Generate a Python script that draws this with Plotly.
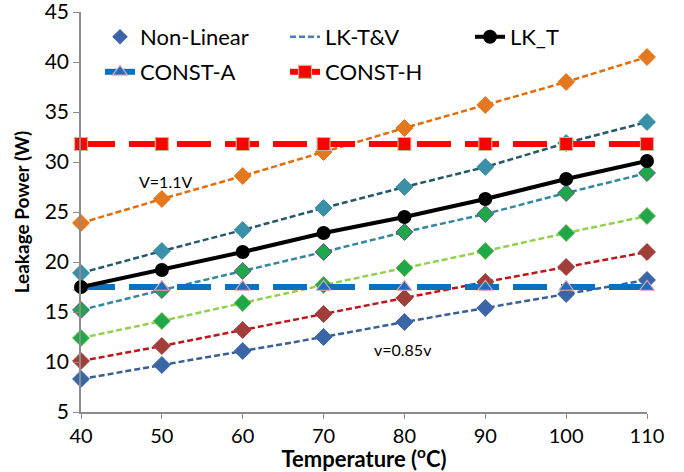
import plotly.graph_objects as go

temps = [40, 50, 60, 70, 80, 90, 100, 110]

s_orange = [23.9, 26.3, 28.6, 31.0, 33.4, 35.7, 38.0, 40.5]
s_teal_dark = [18.9, 21.1, 23.2, 25.4, 27.5, 29.5, 31.9, 34.0]
lk_t = [17.5, 19.2, 21.0, 22.9, 24.5, 26.3, 28.3, 30.1]
s_teal = [15.2, 17.2, 19.1, 21.0, 23.0, 24.8, 26.9, 28.9]
s_green = [12.4, 14.1, 15.9, 17.7, 19.4, 21.1, 22.9, 24.6]
s_red = [10.1, 11.6, 13.2, 14.8, 16.4, 18.0, 19.5, 21.0]
s_blue = [8.3, 9.7, 11.1, 12.5, 14.0, 15.4, 16.8, 18.2]
const_a = [17.5] * 8
const_h = [31.8] * 8

y_ticks = [5, 10, 15, 20, 25, 30, 35, 40, 45]
annot_texts = ["V=1.1V", "v=0.85v"]

FONT = "Lato"
fig = go.Figure()

def dashed(y, line_color, fill, outline):
    fig.add_trace(go.Scatter(
        x=temps, y=y, mode="lines+markers", showlegend=False, cliponaxis=False,
        line=dict(color=line_color, width=2.5, dash="6px,3px"),
        marker=dict(symbol="diamond", size=13, color=fill, line=dict(color=outline, width=1)),
    ))

dashed(s_blue, "#3A5F94", "#3A66A8", "#3A66A8")
dashed(s_red, "#C0141C", "#A13E3A", "#A13E3A")
dashed(s_green, "#92D050", "#1EA84A", "#6CB84A")
dashed(s_teal, "#33889E", "#1EA84A", "#6A4A96")
dashed(s_teal_dark, "#24586A", "#3A90A8", "#3A90A8")
dashed(s_orange, "#E36C09", "#E4781E", "#E4781E")

fig.add_trace(go.Scatter(
    x=temps, y=const_a, mode="lines+markers", name="CONST-A", cliponaxis=False,
    line=dict(color="#0A70C0", width=6, dash="34px,14px"),
    marker=dict(symbol="triangle-up", size=13, color="#1D6EC0", line=dict(color="#E8A8B0", width=1.2)),
    legend="legend2", legendrank=1,
))
fig.add_trace(go.Scatter(
    x=temps, y=const_h, mode="lines+markers", name="CONST-H", cliponaxis=False,
    line=dict(color="#FF0000", width=6, dash="34px,14px"),
    marker=dict(symbol="square", size=13, color="#FF0000", line=dict(color="#C4B890", width=1.2)),
    legend="legend2", legendrank=2,
))
fig.add_trace(go.Scatter(
    x=temps, y=lk_t, mode="lines+markers", name="LK_T", cliponaxis=False,
    line=dict(color="#000000", width=4),
    marker=dict(symbol="circle", size=14, color="#000000"),
    legend="legend", legendrank=3,
))
# legend-only entries
fig.add_trace(go.Scatter(
    x=[None], y=[None], mode="markers", name="Non-Linear",
    marker=dict(symbol="diamond", size=12, color="#3A66A8"),
    legend="legend", legendrank=1,
))
fig.add_trace(go.Scatter(
    x=[None], y=[None], mode="lines", name="LK-T&V",
    line=dict(color="#4A7EBB", width=2.5, dash="6px,3px"),
    legend="legend", legendrank=2,
))

legend_style = dict(
    orientation="h", xanchor="left", yanchor="middle", bgcolor="rgba(0,0,0,0)",
    font=dict(family=FONT, size=22, color="#000000"), entrywidth=140,
    traceorder="normal", itemwidth=30,
)
fig.update_layout(
    legend=dict(x=(100 - 81) / 566, y=(412 - 37) / 400, **legend_style),
    legend2=dict(x=(100 - 81) / 566, y=(412 - 72) / 400, **legend_style),
)

fig.add_annotation(x=50.4, y=28.1, text=annot_texts[0], showarrow=False,
                   font=dict(family=FONT, size=16, color="#000000"))
fig.add_annotation(x=79.8, y=11.3, text=annot_texts[1], showarrow=False,
                   font=dict(family=FONT, size=16, color="#000000"))

fig.update_layout(
    width=684, height=472,
    margin=dict(l=81, r=37, t=12, b=60, autoexpand=False),
    paper_bgcolor="white", plot_bgcolor="white",
    font=dict(family=FONT, color="#000000"),
    xaxis=dict(
        range=[40, 110], tickvals=temps, showgrid=False, zeroline=False, automargin=False,
        showline=True, linecolor="#8C8C8C", linewidth=1.5,
        ticks="outside", ticklen=5, tickcolor="#8C8C8C", ticklabeloverflow="allow",
        tickfont=dict(family=FONT, size=20, color="#000000"),
        title=dict(text="<b>Temperature (<sup>o</sup>C)</b>", font=dict(family=FONT, size=22), standoff=2),
    ),
    yaxis=dict(
        range=[5, 45], tickvals=y_ticks, showgrid=False, zeroline=False, automargin=False,
        showline=True, linecolor="#8C8C8C", linewidth=1.5,
        ticks="outside", ticklen=6, tickcolor="#8C8C8C", ticklabeloverflow="allow",
        tickfont=dict(family=FONT, size=21, color="#000000"),
        title=dict(text="<b>Leakage Power (W)</b>", font=dict(family=FONT, size=19), standoff=10),
    ),
)

fig.write_html("out.html", config={"displayModeBar": False},
               post_script="document.body.style.margin='0';")
